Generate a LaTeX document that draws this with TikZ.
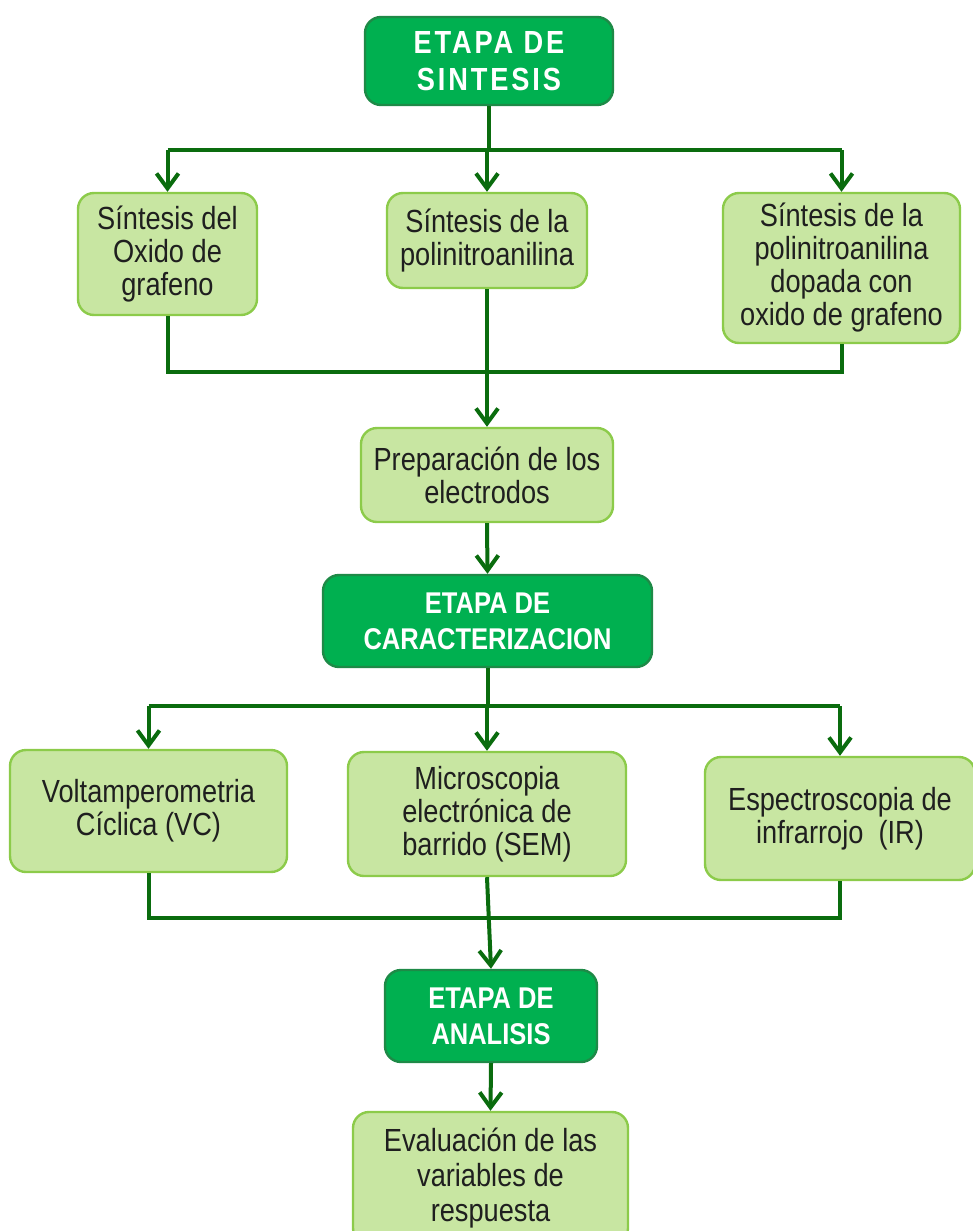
\documentclass[tikz,border=0pt]{standalone}
\usepackage{fontspec}
\setmainfont{Liberation Sans}[FakeStretch=0.85]
\usepackage{xcolor}
\usetikzlibrary{arrows.meta}

\definecolor{stagefill}{HTML}{00B050}
\definecolor{stageline}{HTML}{1E8A47}
\definecolor{stepfill}{HTML}{C8E6A2}
\definecolor{stepline}{HTML}{8CCB4A}
\definecolor{flowline}{HTML}{0A6C0E}

\begin{document}
\begin{tikzpicture}[x=0.5pt, y=-0.5pt,
    stage/.style={draw=stageline, line width=1.2pt, fill=stagefill, rounded corners=8pt,
        text=white, align=center, inner sep=0pt, font=\fontsize{15}{18}\selectfont\bfseries},
    stepbox/.style={draw=stepline, line width=1.2pt, fill=stepfill, rounded corners=8pt,
        text=black!88, align=center, inner sep=0pt, font=\fontsize{16}{16.5}\selectfont},
    flow/.style={draw=flowline, line width=2pt},
    flowarr/.style={flow, -{Straight Barb[length=7.5pt, width=11pt]}}]
    \useasboundingbox (0,0) rectangle (973,1231);

    % Etapa de sintesis
    \node[stage, minimum width=124pt, minimum height=44pt, font=\fontsize{16}{18.5}\selectfont\bfseries\addfontfeature{LetterSpace=9}] (syn) at (489,61) {ETAPA DE\\SINTESIS};
    \node[stepbox, minimum width=89.5pt, minimum height=61pt] (go) at (167.5,254) {Síntesis del\\Oxido de\\grafeno};
    \node[stepbox, minimum width=100pt, minimum height=47.5pt] (pna) at (487,240.5) {Síntesis de la\\polinitroanilina};
    \node[stepbox, minimum width=118.5pt, minimum height=75pt] (pnago) at (841.5,268) {Síntesis de la\\polinitroanilina\\dopada con\\oxido de grafeno};
    \node[stepbox, minimum width=126pt, minimum height=47pt] (elec) at (487,475) {Preparación de los\\electrodos};

    % Etapa de caracterizacion
    \node[stage, minimum width=164.5pt, minimum height=46pt] (car) at (487.5,621) {ETAPA DE\\CARACTERIZACION};
    \node[stepbox, minimum width=138.5pt, minimum height=61pt] (vc) at (148.5,811) {Voltamperometria\\Cíclica (VC)};
    \node[stepbox, minimum width=139pt, minimum height=62pt] (sem) at (487,814) {Microscopia\\electrónica de\\barrido (SEM)};
    \node[stepbox, minimum width=135pt, minimum height=61.5pt] (ir) at (840,818.5) {Espectroscopia de\\infrarrojo~~(IR)};

    % Etapa de analisis
    \node[stage, minimum width=106pt, minimum height=46pt] (ana) at (491,1016) {ETAPA DE\\ANALISIS};
    \node[stepbox, minimum width=137.5pt, minimum height=66pt, font=\fontsize{16}{17.5}\selectfont] (eva) at (490.5,1178) {Evaluación de las\\variables de\\respuesta};

    % Bars
    \coordinate (bar1) at (0,150);
    \coordinate (bar2) at (0,372);
    \coordinate (bar3) at (0,706);
    \coordinate (bar4) at (0,918);

    % Branches of the synthesis
    \draw[flow] (syn.south) -- (syn.south |- bar1);
    \draw[flow] (go.north |- bar1) -- (pnago.north |- bar1);
    \draw[flowarr] (go.north |- bar1) -- (go.north);
    \draw[flowarr] (pna.north |- bar1) -- (pna.north);
    \draw[flowarr] (pnago.north |- bar1) -- (pnago.north);
    \draw[flow] (go.south) -- (go.south |- bar2) -- (pnago.south |- bar2) -- (pnago.south);
    \draw[flowarr] (pna.south) -- (elec.north);
    \draw[flowarr] (elec.south) -- (car.north);

    % Branches of the characterization
    \draw[flow] (car.south) -- (car.south |- bar3);
    \draw[flow] (vc.north |- bar3) -- (ir.north |- bar3);
    \draw[flowarr] (vc.north |- bar3) -- (vc.north);
    \draw[flowarr] (sem.north |- bar3) -- (sem.north);
    \draw[flowarr] (ir.north |- bar3) -- (ir.north);
    \draw[flow] (vc.south) -- (vc.south |- bar4) -- (ir.south |- bar4) -- (ir.south);
    \draw[flowarr] (sem.south) -- (ana.north);
    \draw[flowarr] (ana.south) -- (eva.north);
\end{tikzpicture}
\end{document}
